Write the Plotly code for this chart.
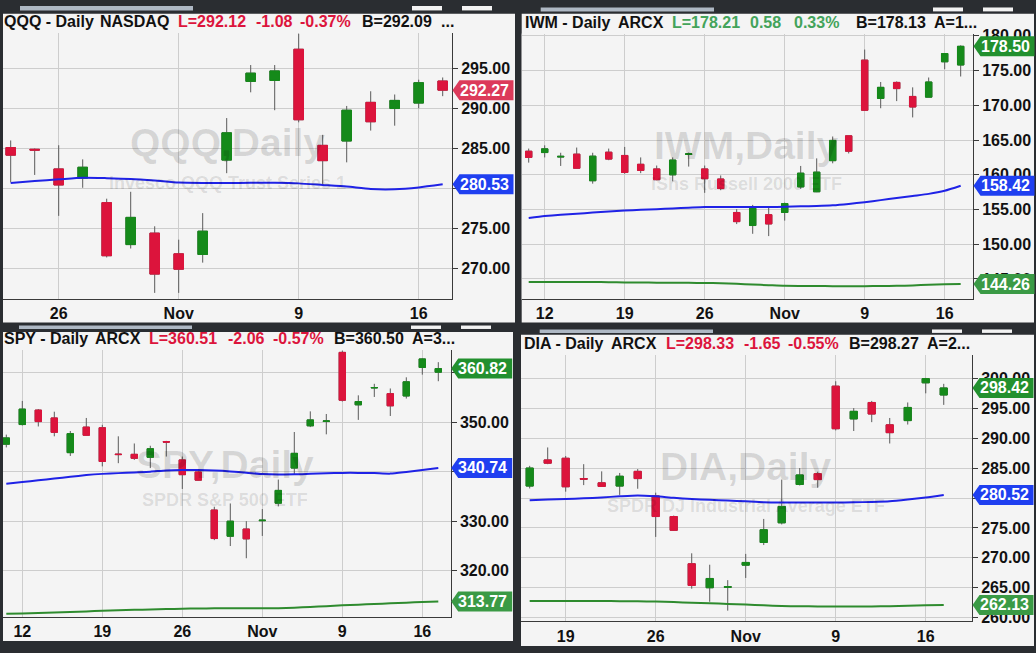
import plotly.graph_objects as go

W, H = 1036, 653

# ------------------------------------------------------------------ data
qqq_dates = ["2020-10-22", "2020-10-23", "2020-10-26", "2020-10-27", "2020-10-28", "2020-10-29",
             "2020-10-30", "2020-11-02", "2020-11-03", "2020-11-04", "2020-11-05", "2020-11-06",
             "2020-11-09", "2020-11-10", "2020-11-11", "2020-11-12", "2020-11-13", "2020-11-16",
             "2020-11-17"]
qqq_open = [285.11, 284.90, 282.45, 281.30, 278.25, 273.02, 274.45, 271.87, 271.79, 283.55,
            293.36, 293.48, 297.37, 285.39, 285.93, 290.75, 289.98, 290.66, 293.41]
qqq_high = [286.00, 285.00, 285.40, 283.64, 278.74, 279.60, 275.30, 273.63, 276.94, 288.79,
            295.40, 295.40, 299.29, 286.70, 290.30, 292.13, 291.73, 293.57, 293.85]
qqq_low = [280.78, 281.70, 276.60, 280.10, 271.42, 272.53, 267.00, 267.00, 270.77, 281.92,
           292.00, 289.77, 288.26, 280.49, 283.27, 287.23, 287.84, 290.01, 291.52]
qqq_close = [284.17, 284.80, 280.45, 282.66, 271.63, 276.41, 269.34, 269.95, 274.69, 286.95,
             294.39, 294.67, 288.58, 283.48, 289.77, 288.33, 290.99, 293.20, 292.27]
qqq_ma50 = [280.70, 280.95, 281.15, 281.35, 281.30, 281.20, 281.00, 280.75, 280.70, 280.70,
            280.72, 280.72, 280.65, 280.45, 280.25, 279.95, 279.92, 280.15, 280.53]
qqq_ticks = ["2020-10-26", "2020-11-02", "2020-11-09", "2020-11-16"]
qqq_ticktext = ["26", "Nov", "9", "16"]

iwm_dates = ["2020-10-09", "2020-10-12", "2020-10-13", "2020-10-14", "2020-10-15", "2020-10-16",
             "2020-10-19", "2020-10-20", "2020-10-21", "2020-10-22", "2020-10-23", "2020-10-26",
             "2020-10-27", "2020-10-28", "2020-10-29", "2020-10-30", "2020-11-02", "2020-11-03",
             "2020-11-04", "2020-11-05", "2020-11-06", "2020-11-09", "2020-11-10", "2020-11-11",
             "2020-11-12", "2020-11-13", "2020-11-16", "2020-11-17"]
iwm_open = [163.39, 163.20, 162.55, 162.97, 159.14, 163.25, 162.78, 161.51, 160.84, 159.99,
            162.92, 160.84, 159.39, 154.57, 152.69, 154.25, 154.57, 158.25, 157.55, 162.03,
            165.61, 176.51, 170.99, 173.30, 171.28, 171.18, 176.27, 175.81]
iwm_high = [163.77, 164.24, 163.17, 163.92, 163.17, 163.77, 164.01, 162.50, 161.33, 162.50,
            163.20, 161.33, 159.90, 155.04, 155.66, 155.28, 155.99, 161.27, 162.36, 165.51,
            165.61, 178.03, 173.36, 173.44, 172.59, 174.01, 177.46, 178.64]
iwm_low = [161.75, 162.50, 161.27, 160.94, 158.72, 162.10, 160.14, 160.23, 159.20, 159.06,
           161.18, 157.40, 157.78, 152.90, 151.50, 151.17, 153.40, 157.97, 157.50, 161.65,
           163.07, 169.20, 169.58, 170.61, 168.26, 171.18, 175.20, 174.15]
iwm_close = [162.50, 163.73, 162.65, 160.94, 162.68, 162.26, 160.33, 160.62, 159.29, 162.12,
             163.02, 159.43, 158.01, 153.25, 155.18, 152.92, 155.85, 160.23, 160.38, 164.95,
             163.39, 169.29, 172.59, 172.41, 169.76, 173.36, 177.46, 178.50]
iwm_ma50 = [153.77, 154.05, 154.25, 154.40, 154.55, 154.70, 154.85, 154.95, 155.05, 155.15,
            155.25, 155.35, 155.35, 155.35, 155.35, 155.35, 155.40, 155.45, 155.50, 155.60,
            155.80, 156.05, 156.35, 156.65, 156.95, 157.25, 157.70, 158.42]
iwm_ma200 = [144.56, 144.56, 144.56, 144.56, 144.55, 144.53, 144.50, 144.48, 144.46, 144.45,
             144.44, 144.42, 144.38, 144.30, 144.20, 144.10, 144.00, 143.98, 143.97, 143.96,
             143.96, 143.96, 143.97, 144.00, 144.07, 144.15, 144.22, 144.26]
iwm_ticks = ["2020-10-12", "2020-10-19", "2020-10-26", "2020-11-02", "2020-11-09", "2020-11-16"]
iwm_ticktext = ["12", "19", "26", "Nov", "9", "16"]

spy_dates = list(iwm_dates)
spy_open = [345.55, 349.52, 352.44, 350.85, 343.84, 349.00, 348.87, 343.55, 343.50, 342.90,
            346.07, 342.37, 339.93, 332.24, 326.95, 328.40, 330.08, 333.63, 340.72, 349.26,
            350.15, 364.10, 353.50, 356.90, 355.76, 355.29, 361.05, 360.10]
spy_high = [347.48, 354.29, 352.64, 352.11, 348.21, 350.85, 349.46, 347.14, 345.69, 345.23,
            346.22, 343.05, 340.10, 332.91, 333.57, 329.99, 332.44, 338.40, 348.01, 352.18,
            351.65, 364.43, 355.42, 357.75, 356.81, 359.06, 362.90, 362.12]
spy_low = [344.90, 349.32, 349.13, 347.14, 343.17, 347.30, 341.06, 341.71, 342.37, 340.72,
           343.05, 336.50, 338.20, 326.16, 324.97, 322.50, 327.01, 332.97, 339.39, 349.00,
           347.54, 354.17, 350.46, 355.09, 351.25, 354.77, 359.60, 358.27]
spy_close = [346.82, 352.64, 350.12, 347.94, 347.68, 347.35, 342.05, 343.45, 342.70, 344.63,
             345.97, 339.39, 338.28, 326.48, 329.99, 326.42, 330.18, 336.21, 343.70, 350.46,
             350.25, 354.43, 354.17, 357.00, 353.30, 358.15, 362.78, 360.82]
spy_ma50 = [337.55, 337.90, 338.25, 338.60, 338.95, 339.30, 339.55, 339.70, 339.85, 340.00,
            340.25, 340.35, 340.35, 340.25, 340.05, 339.80, 339.50, 339.40, 339.45, 339.55,
            339.65, 339.75, 339.75, 339.70, 339.60, 339.95, 340.35, 340.74]
spy_ma200 = [311.26, 311.35, 311.45, 311.55, 311.65, 311.75, 311.90, 312.00, 312.08, 312.15,
             312.22, 312.30, 312.35, 312.37, 312.38, 312.38, 312.38, 312.40, 312.50, 312.65,
             312.80, 312.98, 313.12, 313.25, 313.38, 313.52, 313.65, 313.77]
spy_ticks = list(iwm_ticks)
spy_ticktext = list(iwm_ticktext)

dia_dates = ["2020-10-15", "2020-10-16", "2020-10-19", "2020-10-20", "2020-10-21", "2020-10-22",
             "2020-10-23", "2020-10-26", "2020-10-27", "2020-10-28", "2020-10-29", "2020-10-30",
             "2020-11-02", "2020-11-03", "2020-11-04", "2020-11-05", "2020-11-06", "2020-11-09",
             "2020-11-10", "2020-11-11", "2020-11-12", "2020-11-13", "2020-11-16", "2020-11-17"]
dia_open = [282.01, 286.38, 286.66, 283.25, 282.55, 282.01, 284.47, 280.36, 276.91, 269.01,
            265.00, 265.09, 268.78, 272.57, 275.86, 282.27, 284.08, 298.72, 293.24, 295.99,
            292.25, 292.96, 299.28, 297.24]
dia_high = [285.39, 288.47, 287.04, 285.67, 284.47, 284.20, 284.85, 280.90, 277.07, 270.76,
            268.85, 266.27, 270.66, 276.51, 283.09, 285.02, 284.41, 299.54, 295.05, 296.25,
            293.40, 295.99, 300.10, 299.11]
dia_low = [281.61, 285.67, 281.07, 282.17, 281.89, 280.53, 281.56, 273.50, 274.50, 264.84,
           262.65, 261.17, 266.64, 272.14, 275.59, 282.10, 281.73, 291.32, 291.22, 292.70,
           289.13, 292.30, 297.52, 295.59]
dia_close = [285.02, 285.84, 281.89, 283.17, 281.95, 283.65, 283.26, 276.91, 274.61, 265.39,
             266.55, 265.15, 269.23, 274.70, 278.60, 283.87, 283.09, 291.60, 294.51, 294.06,
             290.94, 295.16, 299.98, 298.42]
dia_ma50 = [279.64, 279.75, 279.85, 279.95, 280.10, 280.30, 280.45, 280.30, 280.05, 279.85,
            279.70, 279.60, 279.45, 279.30, 279.25, 279.25, 279.25, 279.26, 279.30, 279.35,
            279.45, 279.75, 280.10, 280.52]
dia_ma200 = [262.80, 262.80, 262.80, 262.80, 262.78, 262.75, 262.72, 262.68, 262.60, 262.50,
             262.40, 262.30, 262.20, 262.05, 261.95, 261.90, 261.88, 261.88, 261.88, 261.88,
             261.92, 262.00, 262.08, 262.13]
dia_ticks = ["2020-10-19", "2020-10-26", "2020-11-02", "2020-11-09", "2020-11-16"]
dia_ticktext = ["19", "26", "Nov", "9", "16"]

qqq_title = [("QQQ - Daily", "k"), ("NASDAQ", "k"), ("L=292.12", "r"), ("-1.08", "r"),
             ("-0.37%", "r"), ("B=292.09", "k"), ("...", "k")]
iwm_title = [("IWM - Daily", "k"), ("ARCX", "k"), ("L=178.21", "g"), ("0.58", "g"),
             ("0.33%", "g"), ("B=178.13", "k"), ("A=1...", "k")]
spy_title = [("SPY - Daily", "k"), ("ARCX", "k"), ("L=360.51", "r"), ("-2.06", "r"),
             ("-0.57%", "r"), ("B=360.50", "k"), ("A=3...", "k")]
dia_title = [("DIA - Daily", "k"), ("ARCX", "k"), ("L=298.33", "r"), ("-1.65", "r"),
             ("-0.55%", "r"), ("B=298.27", "k"), ("A=2...", "k")]

qqq_wm = ("QQQ,Daily", "Invesco QQQ Trust Series 1")
iwm_wm = ("IWM,Daily", "iShs Russell 2000 ETF")
spy_wm = ("SPY,Daily", "SPDR S&P 500 ETF")
dia_wm = ("DIA,Daily", "SPDR DJ Industrial Average ETF")

# ------------------------------------------------------------------ styles / geometry
FONT = "Liberation Sans, Arial, sans-serif"
RED = "#dc143c"
GREEN = "#158a1a"
WICK = "#5a5a5a"
BLUE_MA = "#1f22e6"
GREEN_MA = "#2e8b2e"
PANEL_BG = "#f4f4f4"
DARK = "#2a2d31"
GRID = "#cdcdcd"
TXT = {"k": "#111111", "r": RED, "g": "#43a35a"}


def px(x):
    return x / W


def py(y):
    return 1 - y / H


panels = [
    dict(n=1, dates=qqq_dates, o=qqq_open, h=qqq_high, l=qqq_low, c=qqq_close,
         ma50=qqq_ma50, ma200=None, ticks=qqq_ticks, ticktext=qqq_ticktext,
         title=qqq_title, wm=qqq_wm, last_color="#dc3a5a",
         plot=(3, 27, 452, 298), yr=(266.24, 299.45), xr=(-0.321, 18.388), dtick=5,
         bg=(3, 8, 515, 322), title_y=18.3, title_x=[3.3, 99, 176.7, 255, 299.3, 360.7, 440],
         scroll=(20, 0, 193, 4.5), wbox=[(412, 0, 442, 4.5), (462, 0, 492, 4.5)],
         wm_xy=(227, 141, 181)),
    dict(n=2, dates=iwm_dates, o=iwm_open, h=iwm_high, l=iwm_low, c=iwm_close,
         ma50=iwm_ma50, ma200=iwm_ma200, ticks=iwm_ticks, ticktext=iwm_ticktext,
         title=iwm_title, wm=iwm_wm, last_color="#22902e",
         plot=(521.7, 28, 973, 298.3), yr=(142.07, 180.34), xr=(-0.4375, 27.77), dtick=5,
         bg=(521.7, 8, 1034, 322), title_y=19.3,
         title_x=[524, 616.7, 671.3, 749, 793.3, 854.7, 933],
         scroll=(540.7, 1.5, 714, 5.5), wbox=[(933, 1.5, 963, 5.5), (983, 1.5, 1013, 5.5)],
         wm_xy=(746, 144, 181.7)),
    dict(n=3, dates=spy_dates, o=spy_open, h=spy_high, l=spy_low, c=spy_close,
         ma50=spy_ma50, ma200=spy_ma200, ticks=spy_ticks, ticktext=spy_ticktext,
         title=spy_title, wm=spy_wm, last_color="#22902e",
         plot=(3, 350, 450.7, 621), yr=(310.72, 364.56), xr=(-0.206, 27.775), dtick=10,
         bg=(3, 331.7, 513, 646), title_y=341,
         title_x=[3.3, 94.3, 148.3, 226.7, 271.7, 332.7, 410.7],
         scroll=(19, 325, 192, 328.5), wbox=[(411, 325, 441, 328.5), (461, 325, 491, 328.5)],
         wm_xy=(225, 468, 503.3)),
    dict(n=4, dates=dia_dates, o=dia_open, h=dia_high, l=dia_low, c=dia_close,
         ma50=dia_ma50, ma200=dia_ma200, ticks=dia_ticks, ticktext=dia_ticktext,
         title=dia_title, wm=dia_wm, last_color="#22902e",
         plot=(521, 355, 972, 626), yr=(259.36, 303.93), xr=(-0.483, 24.57), dtick=5,
         bg=(521, 334.5, 1034, 651), title_y=346,
         title_x=[523, 610.3, 665, 743.3, 787.3, 848, 926.3],
         scroll=(539.7, 329, 713, 332.5), wbox=[(932, 329, 962, 332.5), (982, 329, 1012, 332.5)],
         wm_xy=(746, 470, 509.3)),
]

fig = go.Figure()
shapes = []
annotations = []
layout_axes = {}

for p in panels:
    n = p["n"]
    xa = "x" if n == 1 else f"x{n}"
    ya = "y" if n == 1 else f"y{n}"
    x0, y0, x1, y1 = p["plot"]

    # wicks (gray) + full candle
    fig.add_trace(go.Candlestick(
        x=p["dates"], open=p["o"], high=p["h"], low=p["l"], close=p["c"],
        xaxis=xa, yaxis=ya, whiskerwidth=0, showlegend=False, hoverinfo="skip",
        increasing=dict(line=dict(color=WICK, width=1), fillcolor=WICK),
        decreasing=dict(line=dict(color=WICK, width=1), fillcolor=WICK)))
    # coloured bodies on top
    body_hi = [max(a, b) for a, b in zip(p["o"], p["c"])]
    body_lo = [min(a, b) for a, b in zip(p["o"], p["c"])]
    fig.add_trace(go.Candlestick(
        x=p["dates"], open=p["o"], high=body_hi, low=body_lo, close=p["c"],
        xaxis=xa, yaxis=ya, whiskerwidth=0, showlegend=False, hoverinfo="skip",
        increasing=dict(line=dict(color=GREEN, width=1), fillcolor=GREEN),
        decreasing=dict(line=dict(color=RED, width=1), fillcolor=RED)))
    # moving averages
    if p["ma200"] is not None:
        fig.add_trace(go.Scatter(x=p["dates"], y=p["ma200"], mode="lines", xaxis=xa, yaxis=ya,
                                 line=dict(color=GREEN_MA, width=2, shape="spline", smoothing=0.6),
                                 showlegend=False, hoverinfo="skip"))
    fig.add_trace(go.Scatter(x=p["dates"], y=p["ma50"], mode="lines", xaxis=xa, yaxis=ya,
                             line=dict(color=BLUE_MA, width=2, shape="spline", smoothing=0.6),
                             showlegend=False, hoverinfo="skip"))

    key = "" if n == 1 else str(n)
    layout_axes[f"xaxis{key}"] = dict(
        type="category", domain=[px(x0), px(x1)], anchor=ya, range=list(p["xr"]),
        tickmode="array", tickvals=p["ticks"], ticktext=p["ticktext"],
        showgrid=True, gridcolor=GRID, gridwidth=1, showline=True, linecolor="#3a3a3a",
        linewidth=1, ticks="", ticklabelstandoff=0,
        tickfont=dict(family=FONT, size=16, color="#111111", weight="bold"),
        rangeslider=dict(visible=False), fixedrange=True, zeroline=False)
    layout_axes[f"yaxis{key}"] = dict(
        domain=[py(y1), py(y0)], anchor=xa, side="right", range=list(p["yr"]),
        tick0=0, dtick=p["dtick"], tickformat=".2f", showgrid=True, gridcolor=GRID,
        gridwidth=1, showline=True, linecolor="#3a3a3a", linewidth=1, ticks="outside",
        ticklen=5, tickcolor="#3a3a3a",
        tickfont=dict(family=FONT, size=16, color="#111111", weight="bold"),
        fixedrange=True, zeroline=False)

    # panel background and top strip
    bx0, by0, bx1, by1 = p["bg"]
    shapes.append(dict(type="rect", xref="paper", yref="paper", x0=px(bx0), x1=px(bx1),
                       y0=py(by1), y1=py(by0), fillcolor=PANEL_BG, line=dict(width=0),
                       layer="below"))
    sx0, sy0, sx1, sy1 = p["scroll"]
    shapes.append(dict(type="rect", xref="paper", yref="paper", x0=px(sx0), x1=px(sx1),
                       y0=py(sy1), y1=py(sy0), fillcolor="#aeb8c4", line=dict(width=0),
                       layer="below"))
    for (wx0, wy0, wx1, wy1) in p["wbox"]:
        shapes.append(dict(type="rect", xref="paper", yref="paper", x0=px(wx0), x1=px(wx1),
                           y0=py(wy1), y1=py(wy0), fillcolor="#f2f2f2", line=dict(width=0),
                           layer="below"))

    # title segments
    for (txt, col), tx in zip(p["title"], p["title_x"]):
        annotations.append(dict(text=txt, x=px(tx - 1), y=py(p["title_y"] - 2.5), xref="paper",
                                yref="paper", xanchor="left", yanchor="middle", showarrow=False,
                                font=dict(family=FONT, size=16, color=TXT[col], weight="bold")))

    # watermark
    wcx, wy_main, wy_sub = p["wm_xy"]
    annotations.append(dict(text=p["wm"][0], x=px(wcx), y=py(wy_main - 2), xref="paper",
                            yref="paper", xanchor="center", yanchor="middle", showarrow=False,
                            font=dict(family=FONT, size=39, color="rgba(0,0,0,0.13)",
                                      weight="bold")))
    annotations.append(dict(text=p["wm"][1], x=px(wcx), y=py(wy_sub - 1), xref="paper",
                            yref="paper", xanchor="center", yanchor="middle", showarrow=False,
                            font=dict(family=FONT, size=18, color="rgba(0,0,0,0.11)",
                                      weight="bold")))

    # price tags on the right axis
    tags = [(p["c"][-1], p["last_color"]), (p["ma50"][-1], "#1f3ff0")]
    if p["ma200"] is not None:
        tags.append((p["ma200"][-1], "#3a9a45"))
    for val, col in tags:
        shapes.append(dict(type="path", xref="paper", yref=ya, xsizemode="pixel",
                           ysizemode="pixel", xanchor=px(x1 + 0.5), yanchor=val,
                           path="M0,0 L7,10 L61,10 L61,-10 L7,-10 Z", fillcolor=col,
                           line=dict(width=0), layer="above"))
        annotations.append(dict(text=f"{val:.2f}", x=px(x1 + 32), y=val, xref="paper", yref=ya,
                                xanchor="center", yanchor="middle", showarrow=False,
                                font=dict(family=FONT, size=16, color="#ffffff", weight="bold")))

fig.update_layout(
    width=W, height=H, margin=dict(l=0, r=0, t=0, b=0),
    paper_bgcolor=DARK, plot_bgcolor=PANEL_BG,
    boxgap=0.6, boxgroupgap=0, boxmode="overlay",
    showlegend=False, shapes=shapes, annotations=annotations,
    font=dict(family=FONT),
    **layout_axes)

fig.write_html(
    "out.html",
    config={"displayModeBar": False, "staticPlot": True},
    post_script="document.body.style.margin='0';document.body.style.overflow='hidden';"
                "document.body.style.background='" + DARK + "';")
